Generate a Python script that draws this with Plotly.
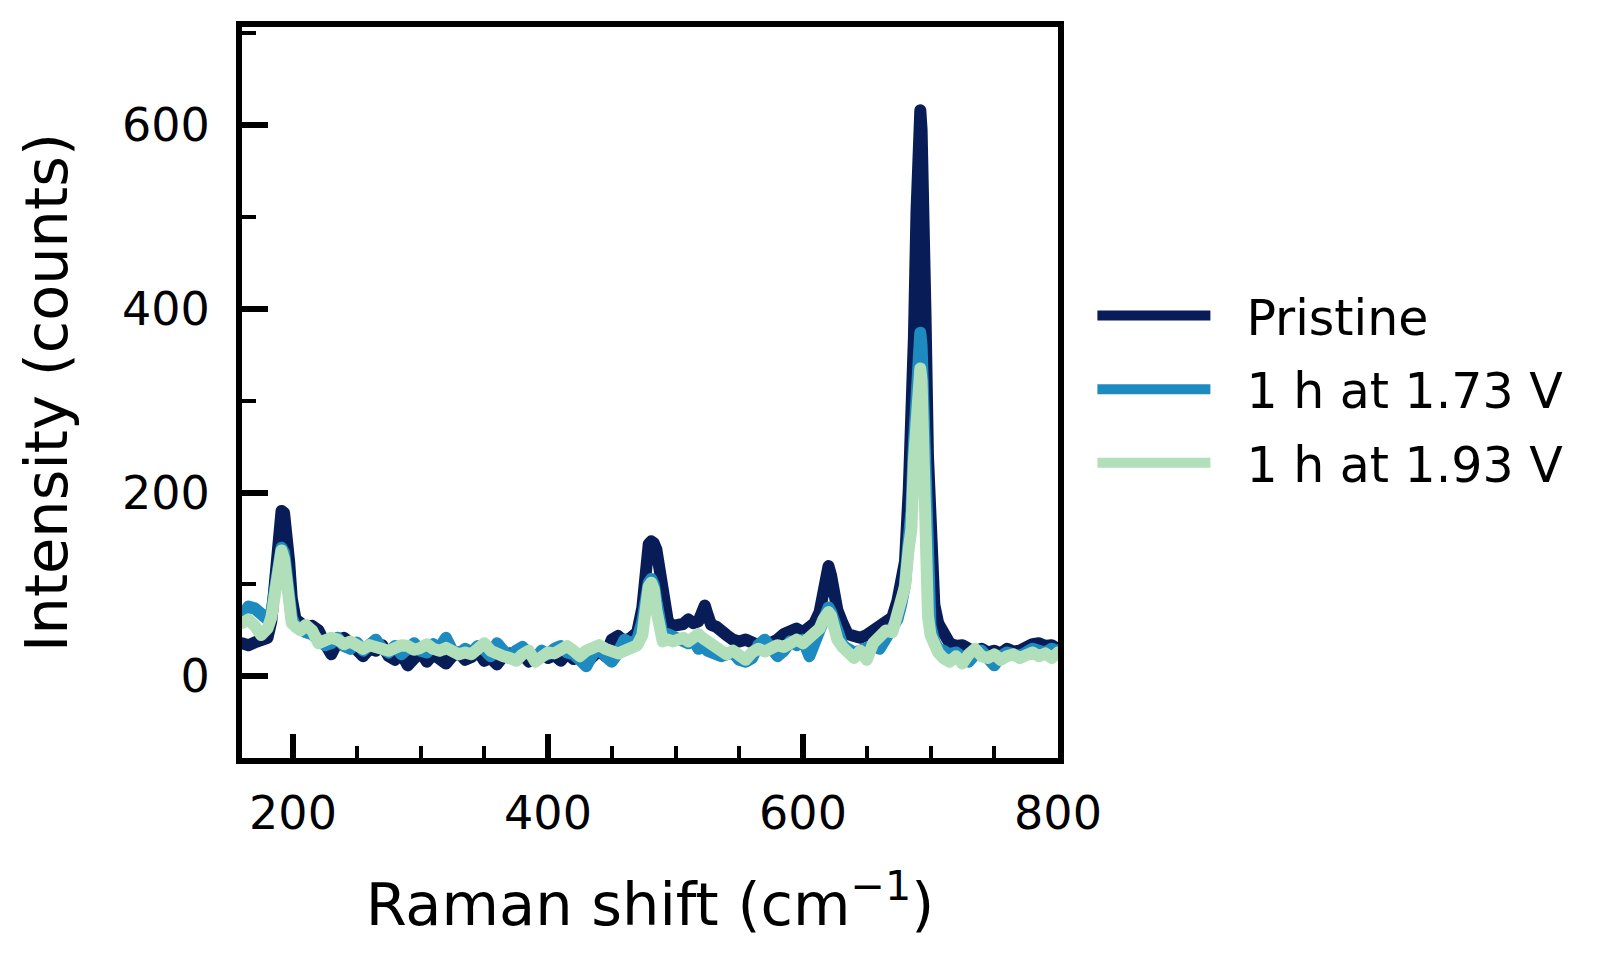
import plotly.graph_objects as go

# Raman shift (cm^-1)
raman_shift = [
    160, 165, 170, 175, 180, 183, 185, 187, 189, 191,
    193, 195, 197, 199, 202, 206, 210, 215, 220, 225,
    230, 235, 240, 245, 250, 255, 260, 265, 270, 275,
    280, 285, 290, 295, 300, 305, 310, 315, 320, 325,
    330, 335, 340, 345, 350, 355, 360, 365, 370, 375,
    380, 385, 390, 395, 400, 405, 410, 415, 420, 425,
    430, 435, 440, 445, 450, 455, 460, 465, 470, 474,
    477, 479, 481, 483, 485, 487, 490, 494, 498, 502,
    506, 510, 514, 518, 521, 523, 525, 528, 532, 536,
    540, 545, 550, 555, 560, 565, 570, 575, 580, 585,
    590, 595, 600, 605, 609, 613, 616, 618, 620, 622,
    624, 627, 631, 635, 640, 645, 650, 655, 660, 665,
    670, 674, 677, 680, 683, 685, 687, 689, 690, 691,
    692, 693, 694, 696, 698, 700, 703, 706, 710, 715,
    720, 725, 730, 735, 740, 745, 750, 755, 760, 765,
    770, 775, 780, 785, 790, 795, 800,
]

pristine = [
    36, 34, 37, 38, 42, 60, 95, 135, 165, 180,
    178, 160, 125, 85, 62, 58, 53, 55, 50, 36,
    24, 38, 42, 36, 30, 22, 30, 28, 34, 22,
    18, 25, 12, 20, 27, 16, 24, 19, 14, 22,
    26, 18, 21, 28, 17, 20, 13, 22, 25, 18,
    24, 16, 21, 26, 20, 23, 17, 25, 19, 22,
    15, 24, 28, 22, 40, 44, 38, 42, 48, 75,
    132, 144, 147, 145, 138, 122, 90, 60, 55, 56,
    57, 62, 58, 60, 72, 77, 68, 56, 54, 48,
    45, 40, 38, 40, 36, 34, 33, 36, 40, 46,
    50, 52, 48, 53, 58, 70, 90, 110, 120, 110,
    92, 72, 58, 46, 44, 42, 45, 50, 55, 62,
    64, 82, 100, 125, 205, 265, 370, 505, 570, 608,
    616, 595, 555, 400, 240, 140, 78, 58, 45, 36,
    33, 34, 30, 27, 30, 26, 28, 25, 30, 27,
    28, 32, 35, 36, 33, 34, 30,
]

h1_173V = [
    64, 76, 74, 68, 62, 70, 88, 112, 132, 140,
    135, 112, 82, 64, 55, 50, 48, 46, 40, 34,
    36, 42, 33, 30, 37, 28, 34, 40, 30, 26,
    33, 24, 30, 36, 28, 26, 35, 31, 42, 28,
    24, 30, 26, 33, 29, 22, 36, 27, 20, 28,
    32, 25, 19, 28, 24, 30, 33, 26, 24, 18,
    11, 24, 30, 22, 16, 26, 40, 36, 40, 60,
    90, 102, 106, 100, 82, 60, 44, 46, 44, 42,
    38, 36, 40, 30, 32, 34, 28, 26, 24, 22,
    24, 26, 18, 16, 20, 34, 40, 30, 22, 28,
    38, 34, 40, 22, 36, 48, 62, 72, 75, 70,
    60, 44, 34, 30, 26, 28, 30, 34, 30, 40,
    52, 62, 78, 100, 150, 180, 255, 330, 355, 370,
    374, 360, 305, 160, 85, 55, 38, 30, 28, 24,
    26, 22, 16, 24, 28, 20, 12, 22, 26, 24,
    22, 26, 30, 28, 26, 30, 28,
]

h1_193V = [
    58, 62, 55, 45, 52, 64, 82, 104, 126, 137,
    128, 100, 74, 58, 54, 50, 56, 50, 36, 40,
    42, 40, 35, 38, 33, 30, 34, 32, 30, 28,
    31, 34, 33, 29, 31, 35, 30, 28, 31, 27,
    24, 26, 24, 30, 36, 28, 24, 22, 20, 17,
    24, 28, 16, 22, 26, 25, 30, 33, 28, 22,
    28, 32, 34, 30, 26, 25, 28, 30, 34, 45,
    82, 98, 102, 95, 72, 50, 38, 40, 38, 40,
    42, 38, 44, 46, 42, 40, 38, 36, 30, 25,
    24, 28, 22, 18, 26, 30, 27, 30, 34, 32,
    38, 40, 36, 44, 46, 52, 62, 68, 70, 66,
    55, 40, 32, 28, 20, 28, 18, 36, 42, 50,
    48, 66, 80, 98, 140, 160, 235, 298, 318, 331,
    335, 322, 275, 110, 66, 45, 32, 26, 20, 16,
    22, 14, 24, 30, 22, 20, 24, 18, 22, 24,
    20, 24, 26, 22, 25, 20, 26,
]

series_names = ["Pristine", "1 h at 1.73 V", "1 h at 1.93 V"]
series_colors = ["#081d58", "#1d8bc0", "#b0dfb9"]
series_values = [pristine, h1_173V, h1_193V]

x_major_ticks = [200, 400, 600, 800]
x_minor_ticks = [250, 300, 350, 450, 500, 550, 650, 700, 750]
y_major_ticks = [0, 200, 400, 600]
y_minor_ticks = [100, 300, 500, 700]

FONT = "DejaVu Sans"

fig = go.Figure()
for name, ys, col in zip(series_names, series_values, series_colors):
    fig.add_trace(go.Scatter(
        x=raman_shift, y=ys, mode="lines", name=name,
        legendgroup=name,
        line=dict(color=col, width=12),
        hoverinfo="skip",
    ))

axis_common = dict(
    showline=True, linecolor="black", linewidth=6, mirror=True,
    ticks="inside", tickcolor="black",
    showgrid=False, zeroline=False,
    tickfont=dict(family=FONT, size=46, color="black"),
)

fig.update_layout(
    width=1612, height=960,
    margin=dict(l=242, r=554, t=27, b=202, autoexpand=False),
    plot_bgcolor="white", paper_bgcolor="white",
    font=dict(family=FONT, color="black"),
    xaxis=dict(
        range=[160, 800], tickvals=x_major_ticks, ticklen=24, tickwidth=6,
        ticklabelstandoff=10,
        minor=dict(tickvals=x_minor_ticks, ticks="inside", ticklen=12, tickwidth=4, tickcolor="black"),
        title=dict(text="Raman shift (cm<sup>−1</sup>)", font=dict(family=FONT, size=59, color="black"), standoff=46),
        **axis_common,
    ),
    yaxis=dict(
        range=[-88.8, 706.6], tickvals=y_major_ticks, ticklen=26, tickwidth=6,
        ticklabelstandoff=17,
        minor=dict(tickvals=y_minor_ticks, ticks="inside", ticklen=14, tickwidth=4, tickcolor="black"),
        title=dict(text="Intensity (counts)", font=dict(family=FONT, size=59, color="black"), standoff=37),
        **axis_common,
    ),
    showlegend=True,
    legend=dict(
        x=1.0348, xanchor="left", y=0.504, yanchor="middle",
        font=dict(family=FONT, size=49, color="black"),
        itemwidth=150, tracegroupgap=7,
        bgcolor="rgba(0,0,0,0)", borderwidth=0,
    ),
)

post = """
document.body.style.margin = '0';
var gd = document.getElementById('{plot_id}');
gd.querySelectorAll('.scatterlayer .js-line').forEach(function(p){
  p.style.strokeLinejoin = 'round'; p.style.strokeLinecap = 'round';
});
gd.querySelectorAll('.legend .traces').forEach(function(g){
  var t = g.querySelector('text.legendtext');
  if (!t) return;
  var tx = parseFloat(t.getAttribute('x'));
  g.querySelectorAll('.legendlines path').forEach(function(p){
    p.setAttribute('d', 'M' + (tx - 36 - 113) + ',0h113');
  });
});
"""
fig.write_html("out.html", post_script=post, config={"displayModeBar": False})
